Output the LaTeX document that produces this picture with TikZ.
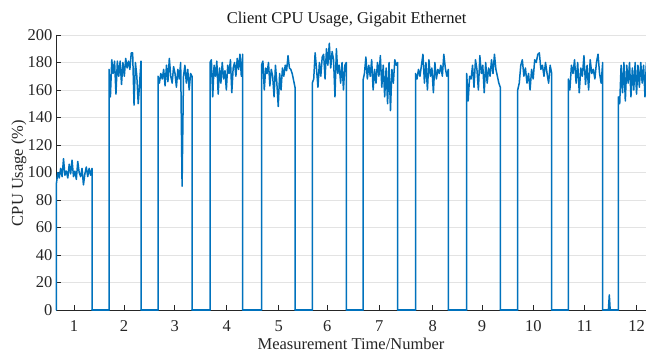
\documentclass[tikz,border=0pt]{standalone}
\usepackage{fontspec}
\setmainfont{Liberation Serif}
\definecolor{mblue}{HTML}{0072BD}
\definecolor{axgray}{HTML}{262626}
\definecolor{gridgray}{HTML}{E3E3E3}
\tikzset{
  lbl/.style={font=\fontsize{16.5}{19}\selectfont, text=axgray, inner sep=0pt},
  dataline/.style={draw=mblue, line width=1.5pt, line join=round, line cap=round},
  gridline/.style={draw=gridgray, line width=0.8pt},
  axisline/.style={draw=axgray, line width=0.8pt},
}
\newcommand\cpublock[3]{%
  \pgfmathsetmacro\blkn{dim({#3})}%
  \pgfmathsetmacro\blkdx{(#2-#1)/(\blkn-1)}%
  \draw[dataline] (#1,0) foreach \v [count=\i from 0] in {#3} { -- (#1+\i*\blkdx,\v) } -- (#2,0);
}
\begin{document}
\begin{tikzpicture}[x=1pt,y=1pt]
\useasboundingbox (0,0) rectangle (646,354);
\fill[white] (0,0) rectangle (646,354);
\node[lbl, anchor=base, text=black!90] (title) at (346.7,330.4) {Client CPU Usage, Gigabit Ethernet};
\node[lbl, anchor=base] (xlabel) at (351,5) {Measurement Time/Number};
\node[lbl, anchor=base, rotate=90] (ylabel) at (23,181) {CPU Usage (\%)};
\foreach \t/\xp in {1/74,2/124,3/174.7,4/226.7,5/278.7,6/327.3,7/379.3,8/432.7,9/482,10/533.3,11/584.7,12/636.7}
  \node[lbl, anchor=base] (xt\t) at (\xp,23) {\t};
\begin{scope}[shift={(0,44)}, y=1.375pt]
  \foreach \g in {20,40,...,200} \draw[gridline] (56,\g) -- (646,\g);
  \draw[axisline] (56,200) -- (56,0) -- (646,0);
  \foreach \g in {0,20,...,200} {
    \draw[axisline] (56,\g) -- (61,\g);
    \node[lbl, anchor=east] (yt\g) at (52.5,\g) {\g};
  }
  \foreach \xp in {74,124,174.7,226.7,278.7,327.3,379.3,432.7,482,533.3,584.7,636.7}
    \draw[axisline] (\xp,0) -- (\xp,3.64);
  \begin{scope}
    \clip (54,-10) rectangle (646,210);
    \foreach \a/\b in {92/109,141/158,192/210,242.7/261.5,295/312.3,346.3/363,397.7/415.5,448.3/466.7,500.3/517.7,551.7/568.3,602.7/618.3}
      \draw[dataline] (\a,0) -- (\b,0);
    \cpublock{56.4}{92}{92,100,96,103,97,110,98,101,96,106,99,109,97,101,95,108,100,97,103,91,99,104,97,103,98,103}
    \cpublock{109}{141}{175,155,182,172,181,157,181,170,181,164,180,170,183,176,181,175,187,187,149,180,170,150,165,181}
    \cpublock{158}{192}{170,165,172,168,175,163,178,166,183,170,165,177,172,162,175,168,180,90,170,178,165,175,160,172,170}
    \cpublock{210}{242.7}{180,182,155,178,170,181,157,176,165,180,168,174,160,178,172,182,158,176,180,170,183,175,186,170,186}
    \cpublock{261.5}{295}{178,181,160,176,172,180,163,175,170,155,178,165,148,172,160,176,170,178,174,185,176,175,172,167,162}
    \cpublock{312.3}{346.3}{165,168,187,175,162,180,170,184,186,168,190,178,194,176,188,182,155,190,172,178,165,180,160,178,180}
    \cpublock{363}{397.7}{167,172,184,168,178,170,182,160,175,165,180,170,185,162,178,155,176,150,180,145,175,165,182,178,180}
    \cpublock{415.5}{448.3}{172,168,175,170,178,186,165,180,160,182,170,176,158,180,168,175,172,178,170,186,176,170,175}
    \cpublock{466.7}{500.3}{172,152,170,168,178,162,182,175,160,185,172,178,158,180,165,176,170,182,172,186,175,170,165,162}
    \cpublock{517.7}{551.7}{160,165,178,182,170,176,165,172,160,175,168,182,180,186,187,175,178,170,180,172,165,178,172}
    \cpublock{568.3}{602.7}{168,160,178,172,182,165,180,158,176,170,185,164,178,160,182,172,175,168,180,186,172,165,180}
    \cpublock{618.3}{652}{155,150,178,158,180,152,178,165,180,155,176,160,180,157,178,162,180,165,178,155,180,160,176,162,180}
    \draw[dataline] (608.4,0) -- (609.3,11) -- (610.2,0);
  \end{scope}
\end{scope}
\end{tikzpicture}
\end{document}
